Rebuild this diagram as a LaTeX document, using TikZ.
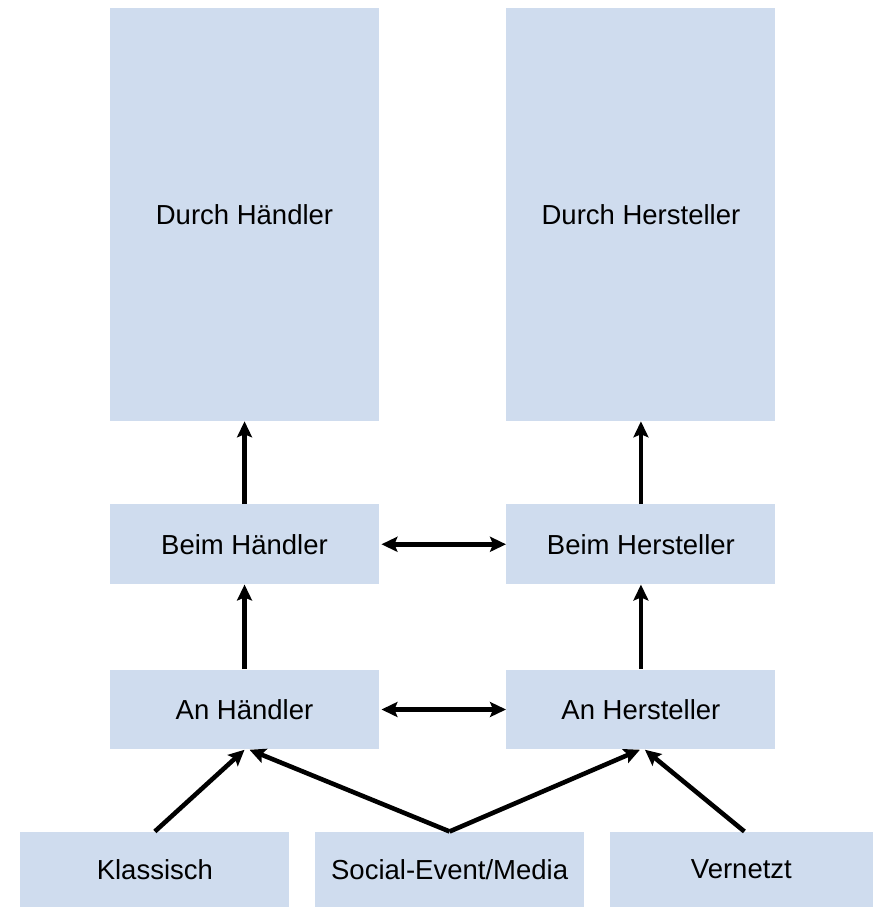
\documentclass[tikz,border=0pt]{standalone}
\usepackage{fontspec}
\setmainfont{Liberation Sans}
\usetikzlibrary{arrows.meta,positioning}
\definecolor{boxblue}{RGB}{207,220,238}

\begin{document}
\begin{tikzpicture}[
    every node/.style={font=\fontsize{13.8}{16}\selectfont},
    box/.style={fill=boxblue, align=center, minimum width=135pt, minimum height=40pt, inner sep=0pt},
    tallbox/.style={box, minimum height=207pt},
    source/.style={box, minimum height=37.5pt, text depth=-3pt},
    flow/.style={-{Stealth[length=8pt,width=7.5pt,inset=1.5pt]}, line width=2.3pt},
    both/.style={{Stealth[length=8pt,width=7.5pt,inset=1.5pt]}-{Stealth[length=8pt,width=7.5pt,inset=1.5pt]}, line width=2.3pt, shorten <=1pt}
]
\node[tallbox] (dhaendler) {Durch Händler};
\node[tallbox, right=63.5pt of dhaendler] (dherst) {Durch Hersteller};
\node[box, below=41.5pt of dhaendler] (bhaendler) {Beim Händler};
\node[box, below=41.5pt of dherst] (bherst) {Beim Hersteller};
\node[box, below=42.5pt of bhaendler] (ahaendler) {An Händler};
\node[box, below=42.5pt of bherst] (aherst) {An Hersteller};
\node[source, below=41pt of ahaendler, xshift=-45pt] (klassisch) {Klassisch};
\node[source, right=12.5pt of klassisch] (social) {Social-Event/Media};
\node[source, right=12.5pt of social, minimum width=132pt] (vernetzt) {Vernetzt};
\useasboundingbox ([xshift=-55pt,yshift=4pt]dhaendler.north west) rectangle (vernetzt.south east);
\draw[flow] (bhaendler) -- (dhaendler);
\draw[flow] (bherst) -- (dherst);
\draw[flow] (ahaendler) -- (bhaendler);
\draw[flow] (aherst) -- (bherst);
\draw[both] (bhaendler.east) -- (bherst.west);
\draw[both] (ahaendler.east) -- (aherst.west);
\draw[flow] (klassisch.north) -- (ahaendler.south);
\draw[flow] (social.north) -- ([xshift=2.5pt]ahaendler.south);
\draw[flow] (social.north) -- ([xshift=-0.5pt]aherst.south);
\draw[flow] ([xshift=1.5pt]vernetzt.north) -- ([xshift=2pt]aherst.south);
\end{tikzpicture}
\end{document}
